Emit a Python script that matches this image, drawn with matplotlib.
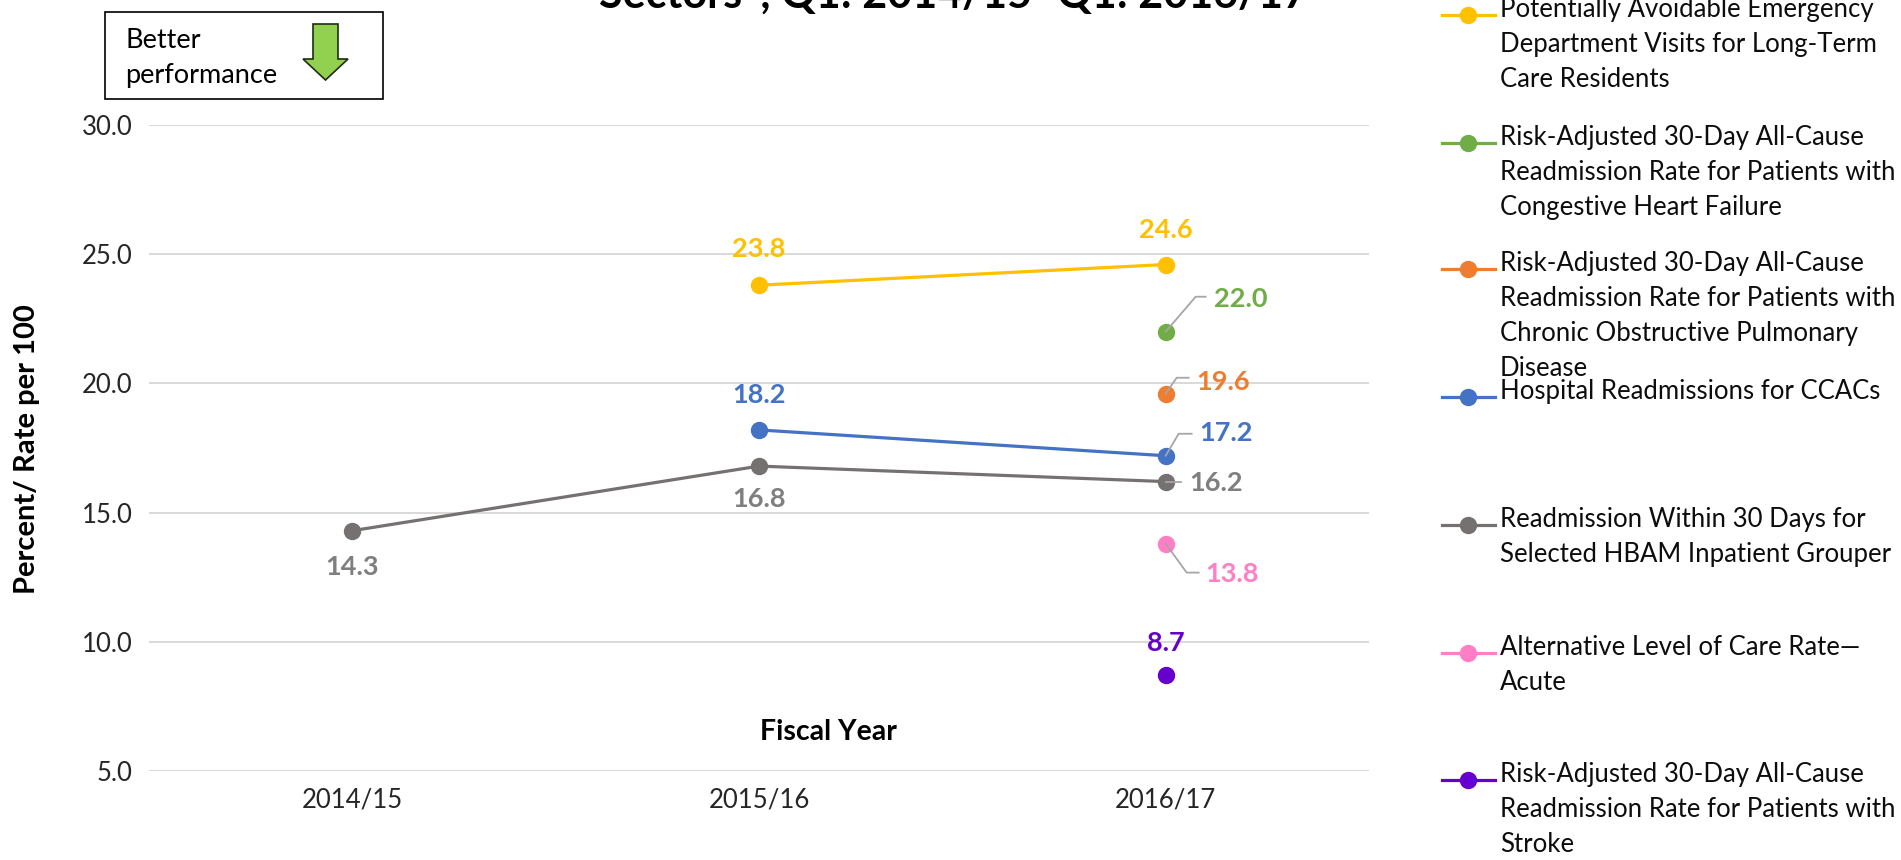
import matplotlib
matplotlib.use("Agg")
import matplotlib.pyplot as plt
from matplotlib.lines import Line2D
from matplotlib.patches import Polygon, Rectangle
from matplotlib.transforms import IdentityTransform

plt.rcParams["font.family"] = ["Lato", "DejaVu Sans"]

years = ["2014/15", "2015/16", "2016/17"]

# series: name, colour, values per fiscal year (None = no data)
names = [
    "Potentially Avoidable Emergency\nDepartment Visits for Long-Term\nCare Residents",
    "Risk-Adjusted 30-Day All-Cause\nReadmission Rate for Patients with\nCongestive Heart Failure",
    "Risk-Adjusted 30-Day All-Cause\nReadmission Rate for Patients with\nChronic Obstructive Pulmonary\nDisease",
    "Hospital Readmissions for CCACs",
    "Readmission Within 30 Days for\nSelected HBAM Inpatient Grouper",
    "Alternative Level of Care Rate\u2014\nAcute",
    "Risk-Adjusted 30-Day All-Cause\nReadmission Rate for Patients with\nStroke",
]
colors = ["#FFC000", "#70AD47", "#ED7D31", "#4472C4", "#767171", "#FF7EC5", "#6600CC"]
label_colors = ["#FFC000", "#70AD47", "#ED7D31", "#4472C4", "#7F7F7F", "#FF7EC5", "#6600CC"]
ed_visits = [None, 23.8, 24.6]
chf = [None, None, 22.0]
copd = [None, None, 19.6]
ccac = [None, 18.2, 17.2]
hbam = [14.3, 16.8, 16.2]
alc = [None, None, 13.8]
stroke = [None, None, 8.7]
series = [ed_visits, chf, copd, ccac, hbam, alc, stroke]

# data-label placement per series and year: (dx px, dy px up, ha, leader vertices)
label_pos = {
    (0, 1): (0, 36, "center", None), (0, 2): (0, 35, "center", None),
    (1, 2): (48, 33, "left", [(0, 0), (30, 35), (40, 35)]),
    (2, 2): (31, 12, "left", [(0, 0), (11, 16), (23, 16)]),
    (3, 1): (0, 35, "center", None),
    (3, 2): (34, 23, "left", [(0, 0), (13, 22), (26, 22)]),
    (4, 0): (0, -36, "center", None), (4, 1): (0, -33, "center", None),
    (4, 2): (24, -1, "left", [(0, 0), (15, 0)]),
    (5, 2): (40, -30, "left", [(0, 0), (21, -29), (33, -29)]),
    (6, 2): (0, 32, "center", None),
}

W, H = 1901, 860
fig = plt.figure(figsize=(W / 100, H / 100), dpi=100)
ax = fig.add_axes([149 / W, 1 - 771 / H, 1220 / W, 646 / H])
ax.set_xlim(-0.5, 2.5)
ax.set_ylim(5, 30)
ax.set_yticks([5, 10, 15, 20, 25, 30])
ax.set_yticklabels([f"{v:.1f}" for v in [5, 10, 15, 20, 25, 30]])
ax.set_xticks(range(len(years)))
ax.set_xticklabels(years)
ax.tick_params(length=0, labelsize=18.5, pad=12)
for lab in ax.get_xticklabels() + ax.get_yticklabels():
    lab.set_color("#262626")
ax.grid(axis="y", color="#D9D9D9", linewidth=1.4)
ax.set_axisbelow(True)
for s in ax.spines.values():
    s.set_visible(False)

for i, vals in enumerate(series):
    xs = [k for k, v in enumerate(vals) if v is not None]
    ys = [v for v in vals if v is not None]
    ax.plot(xs, ys, color=colors[i], linewidth=2.3, marker="o", markersize=11.5, zorder=3)

fig.canvas.draw()
for (i, k), (dx, dy, ha, leader) in label_pos.items():
    v = series[i][k]
    px, py = ax.transData.transform((k, v))
    if leader:
        fig.add_artist(Line2D([px + a for a, b in leader], [py + b for a, b in leader],
                              transform=IdentityTransform(), color="#A6A6A6", linewidth=1.3,
                              zorder=4))
    fig.text(px + dx, py + dy, f"{v:.1f}", transform=IdentityTransform(), ha=ha,
             va="center", fontsize=19.5, fontweight="bold", color=label_colors[i])

fig.text(828 / W, 1 - 732 / H, "Fiscal Year", ha="center", va="center",
         fontsize=20.5, fontweight="bold")
fig.text(27 / W, 1 - 449 / H, "Percent/ Rate per 100", rotation=90, ha="center",
         va="center", fontsize=21, fontweight="bold")

# title, cut off at the top of the image as in the source
fig.text(953 / W, 1 - 8 / H, "Sectors*, Q1: 2014/15\u2013Q1: 2016/17", ha="center",
         va="baseline", fontsize=31, fontweight="bold")

# "Better performance" box with a green down arrow
fig.add_artist(Rectangle((105 / W, 1 - 99 / H), 278 / W, 87 / H, transform=fig.transFigure,
                         facecolor="white", edgecolor="black", linewidth=1.2))
fig.text(125 / W, 1 - 40 / H, "Better", ha="left", va="center", fontsize=19.5)
fig.text(125 / W, 1 - 76 / H, "performance", ha="left", va="center", fontsize=19.5)
arrow_px = [(313, 24), (338, 24), (338, 59), (348, 59), (325.5, 80), (303, 59), (313, 59)]
fig.add_artist(Polygon([(x / W, 1 - y / H) for x, y in arrow_px], closed=True,
                       transform=fig.transFigure, facecolor="#92D050",
                       edgecolor="#1F2D10", linewidth=1.2))

# legend, drawn by hand to keep the wrapped entries aligned to the marker
legend_y = [15, 143, 269, 397, 525, 653, 780]
for i, name in enumerate(names):
    y = 1 - legend_y[i] / H
    fig.add_artist(Line2D([1442 / W, 1495 / W], [y, y], transform=fig.transFigure,
                          color=colors[i], linewidth=2.3))
    fig.add_artist(Line2D([1468 / W], [y], transform=fig.transFigure, color=colors[i],
                          marker="o", markersize=11.5, linestyle="none"))
    fig.text(1500 / W, y + 18 / H, name, ha="left", va="top", fontsize=18.5,
             linespacing=1.5, color="#0D0D0D")

fig.savefig("out.png", dpi=100)
